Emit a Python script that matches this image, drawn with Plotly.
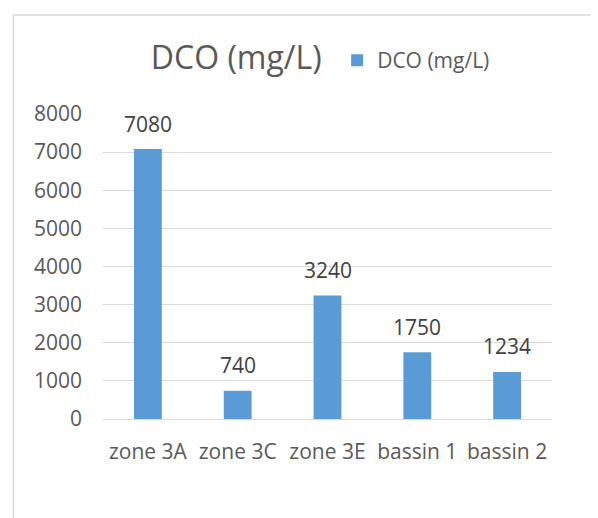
import plotly.graph_objects as go

categories = ["zone 3A", "zone 3C", "zone 3E", "bassin 1", "bassin 2"]
dco_values = [7080, 740, 3240, 1750, 1234]
series_name = "DCO (mg/L)"
y_ticks = [0, 1000, 2000, 3000, 4000, 5000, 6000, 7000, 8000]

# page body has an 8px margin; figure is sized to fit the remaining window
W, H = 590, 510
ml, mr, mt, mb = 95, 46.3, 106.3, 99.3
pw = W - ml - mr
ph = H - mt - mb

FONT = "Open Sans"
GRAY = "#595959"
FS = 21

fig = go.Figure()
fig.add_trace(go.Bar(
    x=categories, y=dco_values, name=series_name,
    marker=dict(color="#5B9BD5", line=dict(width=0)),
    cliponaxis=False,
))

for c, v in zip(categories, dco_values):
    fig.add_annotation(x=c, y=v, text=str(v), showarrow=False,
                       yanchor="middle", yshift=25.5,
                       font=dict(family=FONT, size=FS, color="#404040"))

def px_x(p):
    return (p - ml) / pw

def px_y(p):
    return (H - mb - p) / ph

fig.update_layout(
    width=W, height=H,
    margin=dict(l=ml, r=mr, t=mt, b=mb, autoexpand=False),
    paper_bgcolor="white", plot_bgcolor="white",
    bargap=0.69,
    showlegend=True,
    title=dict(text="DCO (mg/L)", x=228.3 / W, xanchor="center", xref="container",
               y=1 - 50 / H, yanchor="middle", yref="container",
               font=dict(family=FONT, size=32, color=GRAY)),
    legend=dict(x=px_x(329), xref="paper", xanchor="left",
                y=px_y(53), yref="paper", yanchor="middle",
                font=dict(family=FONT, size=FS, color=GRAY),
                bgcolor="rgba(0,0,0,0)"),
    xaxis=dict(tickfont=dict(family=FONT, size=FS, color=GRAY),
               showline=False, ticks="", showgrid=False, tickangle=0,
               ticklabelstandoff=18),
    yaxis=dict(range=[0, 8000], tickvals=y_ticks,
               tickfont=dict(family=FONT, size=FS, color=GRAY),
               showgrid=True, gridcolor="#D9D9D9", gridwidth=1,
               zeroline=True, zerolinecolor="#D9D9D9", zerolinewidth=1,
               ticks="", ticklen=0, showline=False, ticklabelstandoff=20),
    shapes=[
        dict(type="line", xref="paper", yref="paper",
             x0=px_x(5.5), x1=px_x(5.5), y0=px_y(7.5), y1=px_y(H + 5),
             line=dict(color="#D9D9D9", width=1.5)),
        dict(type="line", xref="paper", yref="paper",
             x0=px_x(5.5), x1=px_x(W + 5), y0=px_y(7.5), y1=px_y(7.5),
             line=dict(color="#D9D9D9", width=1.5)),
    ],
)

fig.write_html("out.html")
